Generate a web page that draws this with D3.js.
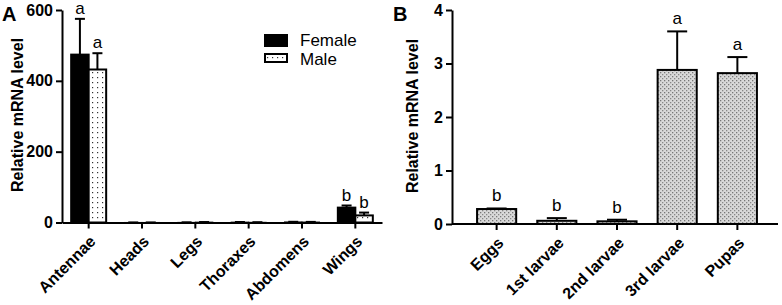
<!DOCTYPE html>
<html>
<head>
<meta charset="utf-8">
<script src="https://cdn.jsdelivr.net/npm/d3@7"></script>
<style>
  body { margin: 0; background: #fff; }
  svg { display: block; font-family: "Liberation Sans", Arial, sans-serif; }
</style>
</head>
<body>
<svg id="chart" width="782" height="305"></svg>
<script>
// panel A: tissues
const tissues = ["Antennae", "Heads", "Legs", "Thoraxes", "Abdomens", "Wings"];
const sexes = ["Female", "Male"];
const femaleVals = [474, 0.1, 0.3, 1, 1.5, 42];
const femaleErr = [101, 0.1, 0.2, 0.5, 0.5, 6];
const maleVals = [432, 0.1, 1, 0.5, 1.2, 20];
const maleErr = [46, 0.1, 0.3, 0.3, 0.5, 8];
const femaleSig = ["a", "", "", "", "", "b"];
const maleSig = ["a", "", "", "", "", "b"];
const yTicksA = [0, 200, 400, 600];

// panel B: stages
const stages = ["Eggs", "1st larvae", "2nd larvae", "3rd larvae", "Pupas"];
const stageVals = [0.28, 0.06, 0.05, 2.88, 2.82];
const stageErr = [0.01, 0.05, 0.03, 0.72, 0.3];
const stageSig = ["b", "b", "b", "a", "a"];
const yTicksB = [0, 1, 2, 3, 4];

const svg = d3.select("#chart");

// patterns
const defs = svg.append("defs");
const dots = defs.append("pattern")
    .attr("id", "dots")
    .attr("width", 5).attr("height", 5)
    .attr("patternUnits", "userSpaceOnUse");
dots.append("rect").attr("width", 5).attr("height", 5).attr("fill", "#fff");
dots.append("rect").attr("x", 2).attr("y", 2).attr("width", 1.2).attr("height", 1.2).attr("fill", "#333");

const stip = defs.append("pattern")
    .attr("id", "stip")
    .attr("width", 4).attr("height", 4)
    .attr("patternUnits", "userSpaceOnUse");
stip.append("rect").attr("width", 4).attr("height", 4).attr("fill", "#d9d9d9");
stip.append("rect").attr("x", 0).attr("y", 0).attr("width", 1.3).attr("height", 1.3).attr("fill", "#777");
stip.append("rect").attr("x", 2).attr("y", 2).attr("width", 1.3).attr("height", 1.3).attr("fill", "#888");

function styleAxis(g) {
    g.selectAll("path, line").attr("stroke", "#000").attr("stroke-width", 2);
    g.selectAll("text").attr("font-size", 16).attr("font-weight", "bold").attr("fill", "#000");
}

// rotated category labels, placed from the band scale
function catLabels(parent, x, cats, y0) {
    parent.append("g")
        .selectAll("text")
        .data(cats).join("text")
        .attr("transform", d => "translate(" + (x(d) + x.bandwidth() / 2 + 8) + "," + (y0 + 20) + ") rotate(-45)")
        .attr("text-anchor", "end")
        .attr("font-size", 16)
        .attr("font-weight", "bold")
        .text(d => d);
}

// ---------- Panel A ----------
const xA = d3.scaleBand().domain(tissues).range([62, 382]);
const xSex = d3.scaleBand().domain(sexes).range([-17.5, 17.5]);
const yA = d3.scaleLinear().domain([0, 600]).range([222.5, 10]);

const gA = svg.append("g");

gA.append("g")
    .attr("transform", "translate(62,0)")
    .call(d3.axisLeft(yA).tickValues(yTicksA).tickSize(6).tickSizeOuter(0).tickPadding(3))
    .call(styleAxis);

gA.append("g")
    .attr("transform", "translate(0,222.5)")
    .call(d3.axisBottom(xA).tickSize(6).tickSizeOuter(0).tickFormat(""))
    .call(styleAxis);
catLabels(gA, xA, tissues, 222.5);

const seriesA = [
    { name: "Female", vals: femaleVals, err: femaleErr, sig: femaleSig, fill: "#000" },
    { name: "Male", vals: maleVals, err: maleErr, sig: maleSig, fill: "url(#dots)" }
];

seriesA.forEach(s => {
    const data = tissues.map((t, i) => ({ t, v: s.vals[i], e: s.err[i], sig: s.sig[i] }));
    const g = gA.append("g");
    const bx = d => xA(d.t) + xA.bandwidth() / 2 + xSex(s.name);
    const bw = xSex.bandwidth();
    g.selectAll("line.err")
        .data(data).join("line")
        .attr("x1", d => bx(d) + bw / 2).attr("x2", d => bx(d) + bw / 2)
        .attr("y1", d => yA(d.v)).attr("y2", d => yA(d.v + d.e))
        .attr("stroke", "#000").attr("stroke-width", 2);
    g.selectAll("line.cap")
        .data(data).join("line")
        .attr("x1", d => bx(d) + bw / 2 - 5).attr("x2", d => bx(d) + bw / 2 + 5)
        .attr("y1", d => yA(d.v + d.e)).attr("y2", d => yA(d.v + d.e))
        .attr("stroke", "#000").attr("stroke-width", 2);
    g.selectAll("rect")
        .data(data).join("rect")
        .attr("x", d => bx(d))
        .attr("width", bw)
        .attr("y", d => yA(d.v))
        .attr("height", d => yA(0) - yA(d.v))
        .attr("fill", s.fill)
        .attr("stroke", "#000").attr("stroke-width", d => d.v < 2 ? 1 : 2);
    g.selectAll("text")
        .data(data.filter(d => d.sig)).join("text")
        .attr("x", d => bx(d) + bw / 2)
        .attr("y", d => yA(d.v + d.e) - 5)
        .attr("text-anchor", "middle")
        .attr("font-size", 17)
        .text(d => d.sig);
});

// legend
const leg = gA.append("g").attr("transform", "translate(265,35)");
sexes.forEach((name, i) => {
    leg.append("rect")
        .attr("x", 0).attr("y", i * 19)
        .attr("width", 22).attr("height", i ? 8 : 11)
        .attr("fill", seriesA[i].fill)
        .attr("stroke", "#000").attr("stroke-width", 2);
    leg.append("text")
        .attr("x", 35).attr("y", i * 19 + 11)
        .attr("font-size", 17)
        .text(name);
});

gA.append("text")
    .attr("transform", "translate(23,115) rotate(-90)")
    .attr("text-anchor", "middle")
    .attr("font-size", 16).attr("font-weight", "bold")
    .text("Relative mRNA level");

svg.append("text")
    .attr("x", 2).attr("y", 21)
    .attr("font-size", 20).attr("font-weight", "bold")
    .text("A");

// ---------- Panel B ----------
const xB = d3.scaleBand().domain(stages).range([456, 778]).padding(0.35);
const yB = d3.scaleLinear().domain([0, 4]).range([224, 10]);

const gB = svg.append("g");

gB.append("g")
    .attr("transform", "translate(452,0)")
    .call(d3.axisLeft(yB).tickValues(yTicksB).tickFormat(d3.format("d")).tickSize(6).tickSizeOuter(0).tickPadding(3))
    .call(styleAxis);

const axB = gB.append("g")
    .attr("transform", "translate(0,224)")
    .call(d3.axisBottom(xB).tickSize(6).tickSizeOuter(0).tickFormat(""))
    .call(styleAxis);
axB.select(".domain").attr("d", "M452,0H778");
catLabels(gB, xB, stages, 224);

const dataB = stages.map((t, i) => ({ t, v: stageVals[i], e: stageErr[i], sig: stageSig[i] }));
const cx = d => xB(d.t) + xB.bandwidth() / 2;

gB.selectAll("line.err")
    .data(dataB).join("line")
    .attr("x1", cx).attr("x2", cx)
    .attr("y1", d => yB(d.v)).attr("y2", d => yB(d.v + d.e))
    .attr("stroke", "#000").attr("stroke-width", 2);
gB.selectAll("line.cap")
    .data(dataB).join("line")
    .attr("x1", d => cx(d) - 10).attr("x2", d => cx(d) + 10)
    .attr("y1", d => yB(d.v + d.e)).attr("y2", d => yB(d.v + d.e))
    .attr("stroke", "#000").attr("stroke-width", 2);
gB.selectAll("rect")
    .data(dataB).join("rect")
    .attr("x", d => xB(d.t))
    .attr("width", xB.bandwidth())
    .attr("y", d => yB(d.v))
    .attr("height", d => yB(0) - yB(d.v))
    .attr("fill", "url(#stip)")
    .attr("stroke", "#000").attr("stroke-width", 2);
gB.selectAll("text.sig")
    .data(dataB).join("text")
    .attr("class", "sig")
    .attr("x", cx)
    .attr("y", d => yB(d.v + d.e) - 7)
    .attr("text-anchor", "middle")
    .attr("font-size", 17)
    .text(d => d.sig);

gB.append("text")
    .attr("transform", "translate(418,116) rotate(-90)")
    .attr("text-anchor", "middle")
    .attr("font-size", 16).attr("font-weight", "bold")
    .text("Relative mRNA level");

svg.append("text")
    .attr("x", 393).attr("y", 21)
    .attr("font-size", 20).attr("font-weight", "bold")
    .text("B");
</script>
</body>
</html>
